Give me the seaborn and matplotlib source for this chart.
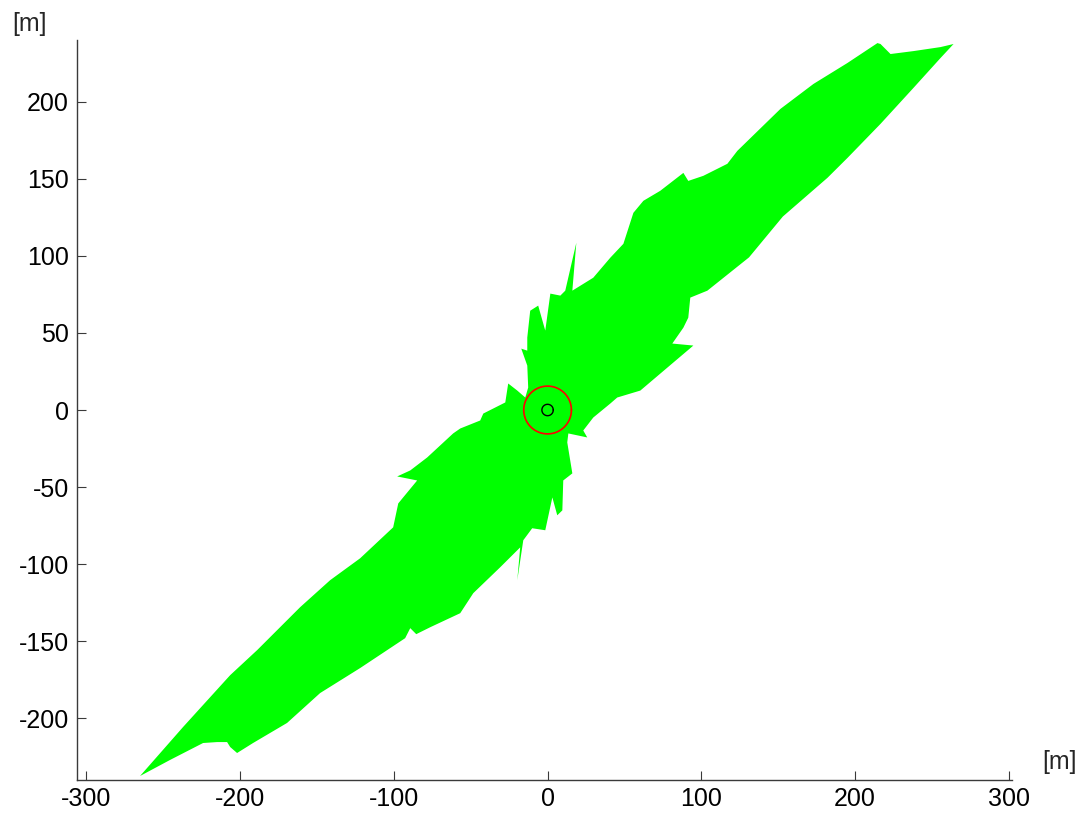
import numpy as np
import matplotlib
matplotlib.use("Agg")
import matplotlib.pyplot as plt
import seaborn as sns

# Coverage polygon outline (metres), traced clockwise from the SW tip
area_x = [-265.0, -237.0, -206.4, -188.9, -160.9, -141.4, -121.9, -100.4, -97.1, -93.9,
          -84.8, -97.8, -89.3, -78.3, -61.4, -56.8, -43.8, -41.8, -27.5, -25.6,
          -19.7, -14.5, -12.6, -13.2, -17.1, -13.2, -13.2, -11.3, -6.1, -1.5,
          1.8, 8.3, 11.5, 18.7, 16.1, 29.7, 40.8, 49.3, 55.8, 62.3,
          73.3, 88.3, 91.5, 101.3, 116.9, 123.4, 151.4, 172.9, 195.0, 214.5,
          216.5, 223.0, 237.9, 255.5, 264.0, 255.5, 237.9, 216.5, 195.0, 182.0,
          153.0, 131.0, 103.9, 92.8, 91.5, 88.3, 81.1, 94.8, 77.9, 60.3,
          45.3, 40.8, 29.7, 23.2, 25.8, 13.5, 12.8, 16.1, 10.2, 9.6,
          6.3, 3.1, -1.5, -10.0, -15.8, -19.7, -17.8, -30.8, -48.3, -56.8,
          -76.3, -85.4, -89.3, -92.6, -121.9, -147.9, -169.4, -191.5, -201.9, -206.4,
          -208.4, -214.9, -224.0, -245.5]
area_y = [-237.4, -205.6, -172.0, -155.8, -127.9, -110.4, -96.2, -76.1, -60.6, -56.7,
          -45.7, -43.1, -39.2, -30.8, -15.2, -12.0, -6.8, -2.3, 4.9, 17.2,
          12.6, 8.1, 14.6, 28.8, 39.8, 38.5, 47.0, 64.4, 67.7, 51.5,
          75.5, 74.2, 77.4, 108.5, 77.4, 85.8, 98.8, 107.8, 127.9, 135.7,
          142.2, 153.8, 148.6, 151.9, 159.7, 168.1, 195.3, 211.5, 225.1, 238.0,
          237.4, 230.9, 232.8, 235.4, 237.4, 228.3, 208.9, 185.6, 163.5, 150.6,
          125.5, 99.0, 77.4, 72.9, 59.9, 53.4, 43.1, 41.8, 27.5, 12.6,
          8.1, 4.2, -4.9, -13.3, -17.8, -15.2, -21.0, -41.1, -45.7, -65.1,
          -68.3, -56.7, -78.0, -76.7, -84.5, -110.4, -89.1, -102.0, -118.8, -131.8,
          -140.9, -145.4, -141.5, -148.0, -167.4, -183.6, -203.0, -216.0, -222.5, -218.6,
          -215.4, -215.4, -216.0, -227.0]

red_radius = 15.5
black_radius = 3.7
xticks = [-300, -200, -100, 0, 100, 200, 300]
yticks = [-200, -150, -100, -50, 0, 50, 100, 150, 200]
unit_label = "[m]"

sns.set_theme(style="white")
plt.rcParams["font.family"] = ["Liberation Sans", "DejaVu Sans"]

fig = plt.figure(figsize=(10.86, 8.17), dpi=100)
ax = fig.add_axes([77 / 1086, 1 - 780 / 817, (1012 - 77) / 1086, (780 - 40) / 817])

ax.fill(area_x, area_y, color="#00ff00", linewidth=0, zorder=1)

theta = np.linspace(0, 2 * np.pi, 200)
ax.plot(red_radius * np.cos(theta), red_radius * np.sin(theta), color="#ff0000", lw=1.2, zorder=3)
ax.plot(black_radius * np.cos(theta), black_radius * np.sin(theta), color="black", lw=1.0, zorder=3)

ax.set_xlim(-306, 302)
ax.set_ylim(-240, 240)
ax.set_xticks(xticks)
ax.set_yticks(yticks)
ax.set_xticklabels([str(v) for v in xticks])
ax.set_yticklabels([str(v) for v in yticks])

for s in ["top", "right"]:
    ax.spines[s].set_visible(False)
for s in ["left", "bottom"]:
    ax.spines[s].set_color("#3a3a3a")
    ax.spines[s].set_linewidth(1.0)

ax.tick_params(axis="both", direction="in", length=6.5, width=0.8, color="#3a3a3a",
               labelsize=18, labelcolor="black", left=True, bottom=True)
ax.tick_params(axis="x", pad=5)
ax.tick_params(axis="y", pad=6)
ax.grid(False)
ax.set_facecolor("white")

fig.text(12 / 1086, 1 - 12 / 817, unit_label, fontsize=18, ha="left", va="top")
fig.text(1042 / 1086, 1 - 750 / 817, unit_label, fontsize=18, ha="left", va="top")

fig.savefig("out.png", dpi=100, facecolor="white")
